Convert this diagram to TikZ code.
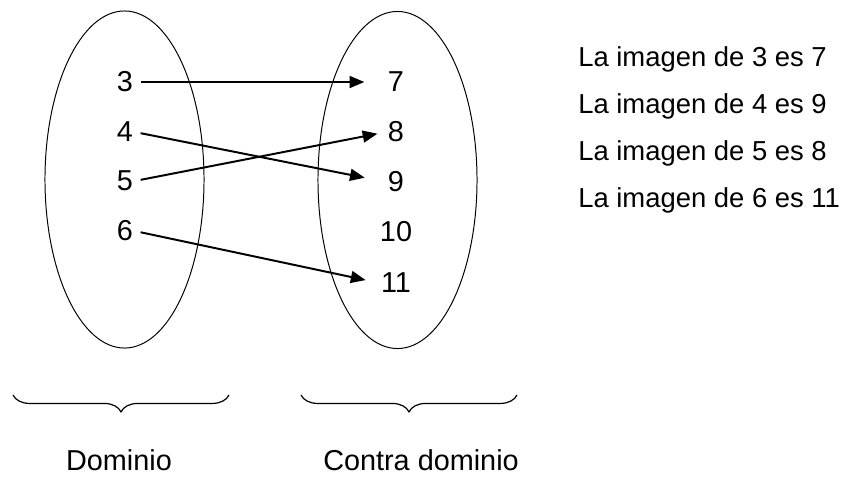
\documentclass[tikz,border=0pt]{standalone}
\usepackage{fontspec}
\setmainfont{Liberation Sans}
\usetikzlibrary{shapes.geometric,arrows.meta,decorations.pathreplacing}

\begin{document}
\begin{tikzpicture}[x=0.025cm, y=-0.025cm,
    conj/.style={ellipse, draw, line width=0.7pt, minimum width=3.975cm,
                 minimum height=8.425cm, inner sep=0pt},
    num/.style={font=\fontsize{20.5}{24}\selectfont, inner sep=1pt},
    txt/.style={font=\fontsize{20.5}{24}\selectfont, inner sep=0pt},
    lista/.style={font=\fontsize{19.5}{23}\selectfont, inner sep=0pt, anchor=base west},
    arr/.style={-{Triangle[length=10.5pt, width=8.5pt]}, line width=1.4pt, shorten <=4.3pt},
    llave/.style={decorate, decoration={brace, mirror, amplitude=12pt}, line width=0.85pt}
]
    \useasboundingbox (0,0) rectangle (860,476);

    \node[conj] (dom) at (124.5,179.5) {};
    \node[conj] (cod) at (397.5,180) {};

    \node[num] (n3) at (125,82) {3};
    \node[num] (n4) at (125,132) {4};
    \node[num] (n5) at (125,181) {5};
    \node[num] (n6) at (125,231) {6};

    \node[num] (n7) at (396,82) {7};
    \node[num] (n8) at (396,132) {8};
    \node[num] (n9) at (396,182) {9};
    \node[num] (n10) at (396,232) {10};
    \node[num] (n11) at (396,283) {11};

    \draw[arr, shorten >=15.6pt] (n3.east) -- (n7.west);
    \draw[arr, shorten >=15.6pt] (n4.east) -- (n9.west);
    \draw[arr, shorten >=6.4pt] (n5.east) -- (n8.west);
    \draw[arr, shorten >=10pt] (n6.east) -- (n11.west);

    \node[lista] (im3) at (578,66) {La imagen de 3 es 7};
    \node[lista] (im4) at (578,113) {La imagen de 4 es 9};
    \node[lista] (im5) at (578,160) {La imagen de 5 es 8};
    \node[lista] (im6) at (578,207) {La imagen de 6 es 11};

    \draw[llave] (13,395) -- (229,395);
    \draw[llave] (301,395) -- (517,395);

    \node[txt] (ldom) at (119,460) {Dominio};
    \node[txt] (lcod) at (421,460) {Contra dominio};
\end{tikzpicture}
\end{document}
